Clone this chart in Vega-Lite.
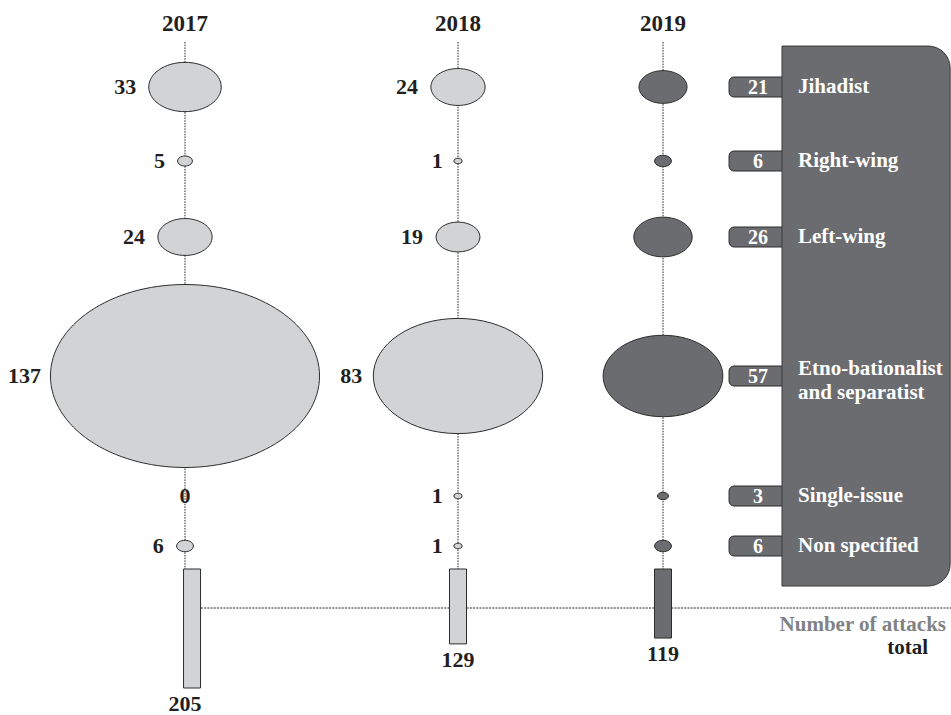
{
  "$schema": "https://vega.github.io/schema/vega-lite/v6.json",
  "width": 951,
  "height": 715,
  "autosize": {"type": "none"},
  "padding": 0,
  "background": "white",
  "config": {
    "view": {"stroke": null},
    "font": "Liberation Serif",
    "text": {"font": "Liberation Serif", "fontWeight": "bold"}
  },
  "datasets": {
    "attacks": [
      {"year": 2017, "order": 1, "category": "Jihadist", "value": 33},
      {"year": 2017, "order": 2, "category": "Right-wing", "value": 5},
      {"year": 2017, "order": 3, "category": "Left-wing", "value": 24},
      {"year": 2017, "order": 4, "category": "Etno-bationalist\nand separatist", "value": 137},
      {"year": 2017, "order": 5, "category": "Single-issue", "value": 0},
      {"year": 2017, "order": 6, "category": "Non specified", "value": 6},
      {"year": 2018, "order": 1, "category": "Jihadist", "value": 24},
      {"year": 2018, "order": 2, "category": "Right-wing", "value": 1},
      {"year": 2018, "order": 3, "category": "Left-wing", "value": 19},
      {"year": 2018, "order": 4, "category": "Etno-bationalist\nand separatist", "value": 83},
      {"year": 2018, "order": 5, "category": "Single-issue", "value": 1},
      {"year": 2018, "order": 6, "category": "Non specified", "value": 1},
      {"year": 2019, "order": 1, "category": "Jihadist", "value": 21},
      {"year": 2019, "order": 2, "category": "Right-wing", "value": 6},
      {"year": 2019, "order": 3, "category": "Left-wing", "value": 26},
      {"year": 2019, "order": 4, "category": "Etno-bationalist\nand separatist", "value": 57},
      {"year": 2019, "order": 5, "category": "Single-issue", "value": 3},
      {"year": 2019, "order": 6, "category": "Non specified", "value": 6}
    ],
    "totals": [
      {"year": 2017, "total": 205},
      {"year": 2018, "total": 129},
      {"year": 2019, "total": 119}
    ]
  },
  "resolve": {"scale": {"x": "independent", "y": "independent"}},
  "layer": [
    {
      "data": {"name": "totals"},
      "mark": {"type": "rule", "stroke": "#222222", "strokeWidth": 1, "strokeDash": [1.5, 1.2]},
      "encoding": {
        "x": {"field": "year", "type": "quantitative", "axis": null, "scale": {"type": "linear", "domain": [2017, 2018, 2019, 2020, 2021], "range": [185, 458, 663, 782, 951], "zero": false, "nice": false}},
        "y": {"datum": 0, "type": "quantitative", "axis": null, "scale": {"type": "linear", "domain": [0, 1, 2, 3, 4, 5, 6, 7], "range": [42, 87, 161, 237, 376, 496, 546, 569], "zero": false, "nice": false}},
        "y2": {"datum": 7}
      }
    },
    {
      "data": {"values": [{"line": "total level"}]},
      "mark": {"type": "rule", "stroke": "#222222", "strokeWidth": 1, "strokeDash": [2, 1.2]},
      "encoding": {
        "x": {"datum": 2017, "type": "quantitative", "axis": null, "scale": {"type": "linear", "domain": [2017, 2018, 2019, 2020, 2021], "range": [185, 458, 663, 782, 951], "zero": false, "nice": false}},
        "x2": {"datum": 2021},
        "y": {"datum": 67.2, "type": "quantitative", "axis": null, "scale": {"type": "linear", "domain": [0, 205], "range": [569, 688], "zero": false, "nice": false}}
      }
    },
    {
      "data": {"name": "totals"},
      "mark": {"type": "bar", "width": 17, "stroke": "#2d2d2d", "strokeWidth": 1},
      "encoding": {
        "x": {"field": "year", "type": "quantitative", "axis": null, "scale": {"type": "linear", "domain": [2017, 2018, 2019, 2020, 2021], "range": [185, 458, 663, 782, 951], "zero": false, "nice": false}},
        "y": {"field": "total", "type": "quantitative", "axis": null, "scale": {"type": "linear", "domain": [0, 205], "range": [569, 688], "nice": false}},
        "fill": {"field": "year", "type": "nominal", "legend": null, "scale": {"domain": [2017, 2018, 2019], "range": ["#d1d3d4", "#d1d3d4", "#6b6c70"]}}
      }
    },
    {
      "data": {"name": "totals"},
      "mark": {"type": "text", "font": "Liberation Serif", "fontWeight": "bold", "align": "center", "baseline": "middle", "fontSize": 22, "color": "#231f20", "dy": 16},
      "encoding": {
        "x": {"field": "year", "type": "quantitative", "axis": null, "scale": {"type": "linear", "domain": [2017, 2018, 2019, 2020, 2021], "range": [185, 458, 663, 782, 951], "zero": false, "nice": false}},
        "y": {"field": "total", "type": "quantitative", "axis": null, "scale": {"type": "linear", "domain": [0, 205], "range": [569, 688], "nice": false}},
        "text": {"field": "total", "type": "quantitative"}
      }
    },
    {
      "data": {"name": "attacks"},
      "transform": [{"filter": "datum.value > 0"}],
      "mark": {"type": "point", "shape": "M -1 0 C -1 -0.3756 -0.5523 -0.68 0 -0.68 C 0.5523 -0.68 1 -0.3756 1 0 C 1 0.3756 0.5523 0.68 0 0.68 C -0.5523 0.68 -1 0.3756 -1 0 Z", "filled": true, "opacity": 1, "stroke": "#2d2d2d", "strokeWidth": 1},
      "encoding": {
        "x": {"field": "year", "type": "quantitative", "axis": null, "scale": {"type": "linear", "domain": [2017, 2018, 2019, 2020, 2021], "range": [185, 458, 663, 782, 951], "zero": false, "nice": false}},
        "y": {"field": "order", "type": "quantitative", "axis": null, "scale": {"type": "linear", "domain": [0, 1, 2, 3, 4, 5, 6, 7], "range": [42, 87, 161, 237, 376, 496, 546, 569], "zero": false, "nice": false}},
        "size": {"field": "value", "type": "quantitative", "legend": null, "scale": {"type": "pow", "exponent": 1.85, "domain": [0, 137], "range": [60, 72400]}},
        "fill": {"field": "year", "type": "nominal", "legend": null, "scale": {"domain": [2017, 2018, 2019], "range": ["#d1d3d4", "#d1d3d4", "#6b6c70"]}}
      }
    },
    {
      "data": {"name": "attacks"},
      "transform": [{"filter": "datum.year == 2017 && datum.value > 0"}],
      "mark": {"type": "text", "font": "Liberation Serif", "fontWeight": "bold", "align": "right", "baseline": "middle", "fontSize": 22, "color": "#231f20"},
      "encoding": {
        "x": {"field": "value", "type": "quantitative", "axis": null, "scale": {"type": "pow", "exponent": 0.925, "domain": [0, 137], "range": [171, 41], "zero": false, "nice": false}},
        "y": {"field": "order", "type": "quantitative", "axis": null, "scale": {"type": "linear", "domain": [0, 1, 2, 3, 4, 5, 6, 7], "range": [42, 87, 161, 237, 376, 496, 546, 569], "zero": false, "nice": false}},
        "text": {"field": "value", "type": "quantitative"}
      }
    },
    {
      "data": {"name": "attacks"},
      "transform": [{"filter": "datum.year == 2018 && datum.value > 0"}],
      "mark": {"type": "text", "font": "Liberation Serif", "fontWeight": "bold", "align": "right", "baseline": "middle", "fontSize": 22, "color": "#231f20"},
      "encoding": {
        "x": {"field": "value", "type": "quantitative", "axis": null, "scale": {"type": "pow", "exponent": 0.925, "domain": [0, 137], "range": [444, 314], "zero": false, "nice": false}},
        "y": {"field": "order", "type": "quantitative", "axis": null, "scale": {"type": "linear", "domain": [0, 1, 2, 3, 4, 5, 6, 7], "range": [42, 87, 161, 237, 376, 496, 546, 569], "zero": false, "nice": false}},
        "text": {"field": "value", "type": "quantitative"}
      }
    },
    {
      "data": {"name": "attacks"},
      "transform": [{"filter": "datum.value == 0"}],
      "mark": {"type": "text", "font": "Liberation Serif", "fontWeight": "bold", "align": "center", "baseline": "middle", "fontSize": 22, "color": "#231f20"},
      "encoding": {
        "x": {"field": "year", "type": "quantitative", "axis": null, "scale": {"type": "linear", "domain": [2017, 2018, 2019, 2020, 2021], "range": [185, 458, 663, 782, 951], "zero": false, "nice": false}},
        "y": {"field": "order", "type": "quantitative", "axis": null, "scale": {"type": "linear", "domain": [0, 1, 2, 3, 4, 5, 6, 7], "range": [42, 87, 161, 237, 376, 496, 546, 569], "zero": false, "nice": false}},
        "text": {"field": "value", "type": "quantitative"}
      }
    },
    {
      "data": {"name": "attacks"},
      "transform": [{"filter": "datum.year == 2019"}],
      "mark": {"type": "bar", "orient": "horizontal", "height": 20, "fill": "#6b6c70", "stroke": "#2d2d2d", "strokeWidth": 1, "cornerRadiusTopLeft": 5, "cornerRadiusBottomLeft": 5},
      "encoding": {
        "x": {"datum": 2019.555, "type": "quantitative", "axis": null, "scale": {"type": "linear", "domain": [2017, 2018, 2019, 2020, 2021], "range": [185, 458, 663, 782, 951], "zero": false, "nice": false}},
        "x2": {"datum": 2020.31},
        "y": {"field": "order", "type": "quantitative", "axis": null, "scale": {"type": "linear", "domain": [0, 1, 2, 3, 4, 5, 6, 7], "range": [42, 87, 161, 237, 376, 496, 546, 569], "zero": false, "nice": false}}
      }
    },
    {
      "data": {"values": [{"panel": "types of terrorism"}]},
      "mark": {"type": "rect", "fill": "#6b6c70", "stroke": "#3a3a3c", "strokeWidth": 1, "cornerRadiusTopRight": 22, "cornerRadiusBottomRight": 22},
      "encoding": {
        "x": {"datum": 2020, "type": "quantitative", "axis": null, "scale": {"type": "linear", "domain": [2017, 2018, 2019, 2020, 2021], "range": [185, 458, 663, 782, 951], "zero": false, "nice": false}},
        "x2": {"datum": 2020.995},
        "y": {"datum": 0.09, "type": "quantitative", "axis": null, "scale": {"type": "linear", "domain": [0, 1, 2, 3, 4, 5, 6, 7], "range": [42, 87, 161, 237, 376, 496, 546, 569], "zero": false, "nice": false}},
        "y2": {"datum": 7.74}
      }
    },
    {
      "data": {"name": "attacks"},
      "transform": [{"filter": "datum.year == 2019"}],
      "mark": {"type": "text", "font": "Liberation Serif", "fontWeight": "bold", "align": "center", "baseline": "middle", "fontSize": 20, "color": "white", "dx": -24, "dy": 1},
      "encoding": {
        "x": {"datum": 2020, "type": "quantitative", "axis": null, "scale": {"type": "linear", "domain": [2017, 2018, 2019, 2020, 2021], "range": [185, 458, 663, 782, 951], "zero": false, "nice": false}},
        "y": {"field": "order", "type": "quantitative", "axis": null, "scale": {"type": "linear", "domain": [0, 1, 2, 3, 4, 5, 6, 7], "range": [42, 87, 161, 237, 376, 496, 546, 569], "zero": false, "nice": false}},
        "text": {"field": "value", "type": "quantitative"}
      }
    },
    {
      "data": {"name": "attacks"},
      "transform": [{"filter": "datum.year == 2019 && datum.order != 4"}],
      "mark": {"type": "text", "font": "Liberation Serif", "fontWeight": "bold", "align": "left", "baseline": "middle", "fontSize": 21, "color": "white", "dx": 16},
      "encoding": {
        "x": {"datum": 2020, "type": "quantitative", "axis": null, "scale": {"type": "linear", "domain": [2017, 2018, 2019, 2020, 2021], "range": [185, 458, 663, 782, 951], "zero": false, "nice": false}},
        "y": {"field": "order", "type": "quantitative", "axis": null, "scale": {"type": "linear", "domain": [0, 1, 2, 3, 4, 5, 6, 7], "range": [42, 87, 161, 237, 376, 496, 546, 569], "zero": false, "nice": false}},
        "text": {"field": "category", "type": "nominal"}
      }
    },
    {
      "data": {"name": "attacks"},
      "transform": [{"filter": "datum.year == 2019 && datum.order == 4"}],
      "mark": {"type": "text", "font": "Liberation Serif", "fontWeight": "bold", "align": "left", "baseline": "middle", "fontSize": 21, "color": "white", "dx": 16, "dy": -7, "lineBreak": "\n", "lineHeight": 24},
      "encoding": {
        "x": {"datum": 2020, "type": "quantitative", "axis": null, "scale": {"type": "linear", "domain": [2017, 2018, 2019, 2020, 2021], "range": [185, 458, 663, 782, 951], "zero": false, "nice": false}},
        "y": {"field": "order", "type": "quantitative", "axis": null, "scale": {"type": "linear", "domain": [0, 1, 2, 3, 4, 5, 6, 7], "range": [42, 87, 161, 237, 376, 496, 546, 569], "zero": false, "nice": false}},
        "text": {"field": "category", "type": "nominal"}
      }
    },
    {
      "data": {"name": "totals"},
      "mark": {"type": "text", "font": "Liberation Serif", "fontWeight": "bold", "align": "center", "baseline": "middle", "fontSize": 23, "color": "#231f20", "dy": -18},
      "encoding": {
        "x": {"field": "year", "type": "quantitative", "axis": null, "scale": {"type": "linear", "domain": [2017, 2018, 2019, 2020, 2021], "range": [185, 458, 663, 782, 951], "zero": false, "nice": false}},
        "y": {"datum": 0, "type": "quantitative", "axis": null, "scale": {"type": "linear", "domain": [0, 1, 2, 3, 4, 5, 6, 7], "range": [42, 87, 161, 237, 376, 496, 546, 569], "zero": false, "nice": false}},
        "text": {"field": "year", "type": "nominal"}
      }
    },
    {
      "data": {"values": [{"caption": "Number of attacks"}]},
      "mark": {"type": "text", "font": "Liberation Serif", "fontWeight": "bold", "align": "right", "baseline": "middle", "fontSize": 21, "color": "#808285", "dx": -5},
      "encoding": {
        "x": {"datum": 2021, "type": "quantitative", "axis": null, "scale": {"type": "linear", "domain": [2017, 2018, 2019, 2020, 2021], "range": [185, 458, 663, 782, 951], "zero": false, "nice": false}},
        "y": {"datum": 96.5, "type": "quantitative", "axis": null, "scale": {"type": "linear", "domain": [0, 205], "range": [569, 688], "zero": false, "nice": false}},
        "text": {"field": "caption", "type": "nominal"}
      }
    },
    {
      "data": {"values": [{"caption": "total"}]},
      "mark": {"type": "text", "font": "Liberation Serif", "fontWeight": "bold", "align": "right", "baseline": "middle", "fontSize": 21, "color": "#231f20", "dx": -23},
      "encoding": {
        "x": {"datum": 2021, "type": "quantitative", "axis": null, "scale": {"type": "linear", "domain": [2017, 2018, 2019, 2020, 2021], "range": [185, 458, 663, 782, 951], "zero": false, "nice": false}},
        "y": {"datum": 136, "type": "quantitative", "axis": null, "scale": {"type": "linear", "domain": [0, 205], "range": [569, 688], "zero": false, "nice": false}},
        "text": {"field": "caption", "type": "nominal"}
      }
    }
  ]
}
